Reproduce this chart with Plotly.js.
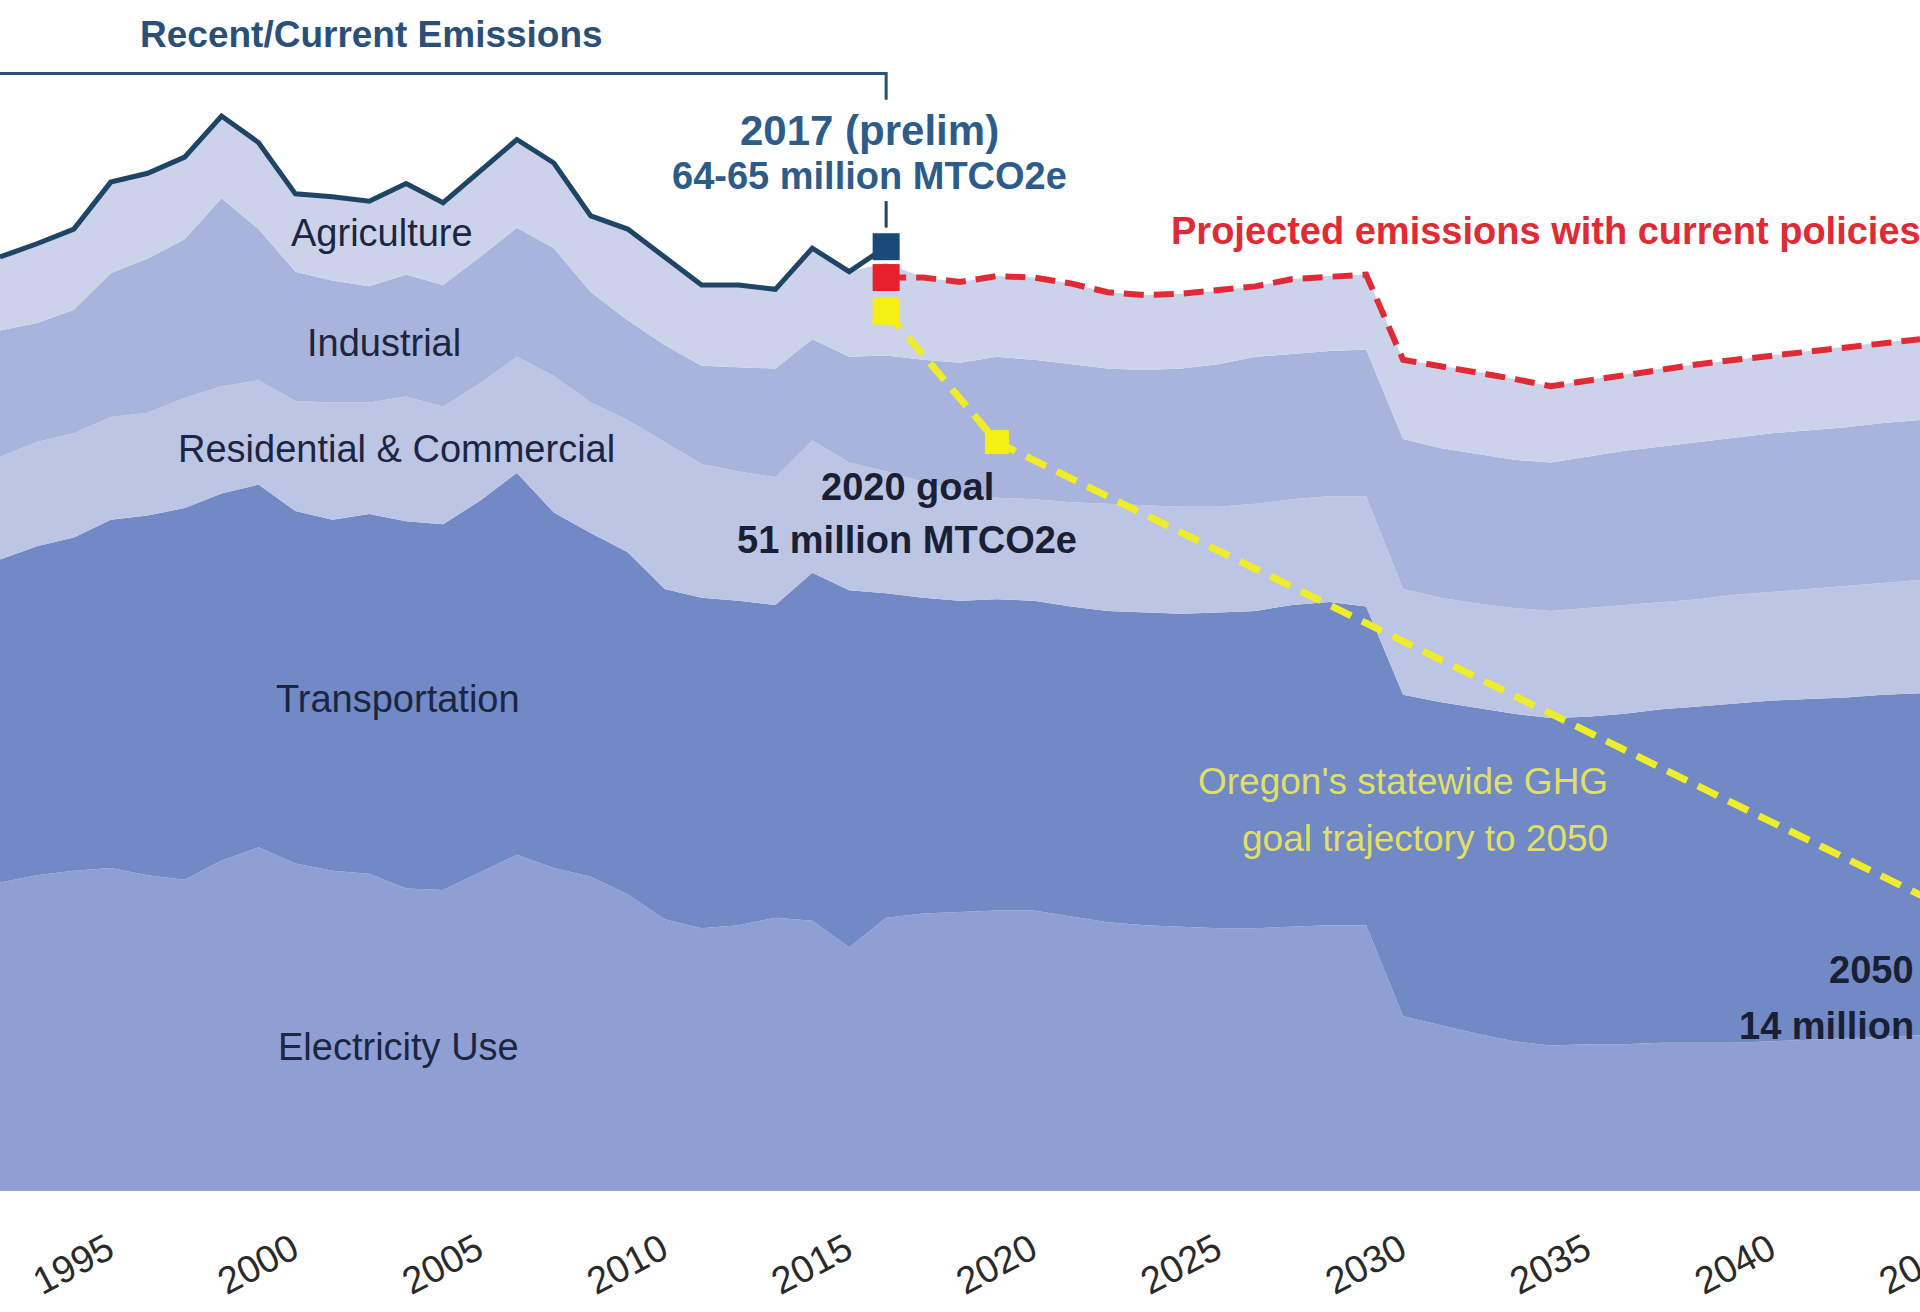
<!DOCTYPE html>
<html>
<head>
<meta charset="utf-8">
<script src="https://cdn.plot.ly/plotly-3.0.1.min.js"></script>
<style>
  html, body { margin: 0; padding: 0; background: #ffffff; }
  #chart { width: 1920px; height: 1312px; }
</style>
</head>
<body>
<div id="chart"></div>
<script>
// ---------------- DATA (million MTCO2e) ----------------
const years = [1993,1994,1995,1996,1997,1998,1999,2000,2001,2002,2003,2004,2005,2006,2007,2008,2009,2010,
  2011,2012,2013,2014,2015,2016,2017,2018,2019,2020,2021,2022,2023,2024,2025,2026,2027,2028,2029,2030,
  2031,2032,2033,2034,2035,2036,2037,2038,2039,2040,2041,2042,2043,2044,2045];

const electricity = [21.0,21.5,21.8,22.0,21.5,21.2,22.5,23.4,22.3,21.8,21.6,20.6,20.5,21.7,22.9,22.0,21.4,20.2,
  18.5,17.9,18.1,18.6,18.4,16.6,18.6,18.9,19.0,19.1,19.1,18.7,18.3,18.1,18.0,17.9,17.9,18.0,18.1,18.1,
  11.9,11.3,10.7,10.2,9.9,10.0,10.0,10.1,10.1,10.1,10.2,10.3,10.4,10.5,10.6];

const transportation = [22.0,22.4,22.7,23.7,24.5,25.3,25.0,24.7,24.0,23.9,24.5,25.0,24.9,25.3,26.0,24.2,23.4,23.3,
  22.5,22.5,22.1,21.3,23.7,24.3,22.1,21.5,21.2,21.2,21.1,21.1,21.2,21.3,21.3,21.5,21.6,21.9,22.0,21.7,
  21.9,22.0,22.2,22.3,22.3,22.3,22.5,22.7,22.9,23.1,23.2,23.2,23.2,23.3,23.3];

const residentialCommercial = [7.0,7.1,7.1,7.0,7.0,7.5,7.3,7.1,7.5,8.0,7.6,8.5,8.0,8.0,7.9,9.3,8.9,9.0,
  10.0,9.1,8.8,8.7,9.0,8.7,8.3,7.9,7.4,6.9,6.9,7.1,7.3,7.3,7.3,7.2,7.3,7.2,7.2,7.5,
  7.2,7.1,7.1,7.2,7.3,7.4,7.4,7.3,7.3,7.4,7.4,7.5,7.6,7.6,7.7];

const industrial = [8.6,8.1,8.4,9.8,10.5,10.8,12.8,10.3,8.8,8.3,7.9,8.3,8.3,8.6,8.8,8.7,7.5,6.8,
  6.6,6.7,7.1,7.4,6.9,7.2,7.9,8.3,8.8,9.6,9.5,9.4,9.2,9.2,9.4,9.7,10.0,9.9,9.9,10.0,
  10.2,10.2,10.2,10.1,10.1,10.3,10.5,10.6,10.7,10.7,10.8,10.8,10.8,10.9,10.9];

const agriculture = [5.0,5.4,5.5,6.2,5.8,5.6,5.6,5.9,5.3,5.7,5.8,6.2,5.6,5.8,6.0,5.8,5.2,6.2,
  6.0,5.5,5.6,5.4,6.2,5.8,6.3,5.6,5.5,5.5,5.6,5.5,5.2,5.1,5.1,5.0,4.8,5.1,5.1,5.1,
  5.4,5.6,5.6,5.5,5.2,5.2,5.2,5.3,5.3,5.3,5.3,5.4,5.5,5.5,5.5];

const sectorNames = ["Electricity Use", "Transportation", "Residential & Commercial", "Industrial", "Agriculture"];

const lastHistoricYear = 2016;
const prelimYear = 2017;
const prelim2017 = 64.3;          // "64-65 million MTCO2e"
const projectedStart2017 = 62.2;  // start of projection with current policies

const goalYears  = [2017, 2020, 2050];
const goalValues = [59.9, 51, 14];

const markerYears  = [2017, 2017, 2017, 2020];
const markerValues = [64.3, 62.2, 59.9, 51];

const tickYears = [1995, 2000, 2005, 2010, 2015, 2020, 2025, 2030, 2035, 2040, 2045];
const tickLabels = ["1995","2000","2005","2010","2015","2020","2025","2030","2035","2040","2045"];

// ---------------- STYLE ----------------
const fills = ["#8f9fd3", "#7189c5", "#bcc5e4", "#a9b4dc", "#ccd2ea"];
const navy = "#1e4466";
const steel = "#2d5c8a";
const red = "#e02a36";
const yellow = "#efec2c";
const ink = "#1c2541";
const FONT = "Liberation Sans, Arial, Helvetica, sans-serif";

// ---------------- BUILD ----------------
const series = [electricity, transportation, residentialCommercial, industrial, agriculture];
const totals = years.map((_, i) => series.reduce((s, arr) => s + arr[i], 0));

const traces = series.map((vals, k) => ({
  type: "scatter", mode: "lines", name: sectorNames[k],
  x: years, y: vals, stackgroup: "em",
  line: { width: 0, shape: "linear" },
  fillcolor: fills[k], hoverinfo: "skip"
}));

const histX = [], histY = [];
years.forEach((yr, i) => { if (yr <= lastHistoricYear) { histX.push(yr); histY.push(totals[i]); } });
histX.push(prelimYear); histY.push(prelim2017);

const projX = [prelimYear], projY = [projectedStart2017];
years.forEach((yr, i) => { if (yr > prelimYear) { projX.push(yr); projY.push(totals[i]); } });

traces.push({
  type: "scatter", mode: "lines", x: histX, y: histY,
  line: { color: navy, width: 5 }, hoverinfo: "skip", showlegend: false
});
traces.push({
  type: "scatter", mode: "lines", x: projX, y: projY,
  line: { color: red, width: 6, dash: "20px,10px" }, hoverinfo: "skip", showlegend: false
});
traces.push({
  type: "scatter", mode: "lines", x: goalYears, y: goalValues,
  line: { color: yellow, width: 7, dash: "22px,12px" }, hoverinfo: "skip", showlegend: false
});
traces.push({
  type: "scatter", mode: "markers", x: markerYears, y: markerValues, opacity: 1,
  marker: { symbol: "square", size: [27, 27, 27, 24], opacity: 1,
            color: ["#1b4a78", "#e8202a", "#f4f014", "#f4f014"],
            line: { width: 0 } },
  hoverinfo: "skip", showlegend: false
});

function ann(text, px, py, opts) {
  return Object.assign({
    text: text, xref: "paper", yref: "paper",
    x: px / 1920, y: (1191 - py) / 1191,
    showarrow: false, xanchor: "center", yanchor: "middle",
    font: { family: FONT, size: 38, color: ink }
  }, opts || {});
}

const annotations = [
  ann("<b>Recent/Current Emissions</b>", 371, 34, { font: { family: FONT, size: 37, color: "#2a5078" } }),
  ann("<b>2017 (prelim)</b>", 869, 131, { font: { family: FONT, size: 42, color: steel } }),
  ann("<b>64-65 million MTCO2e</b>", 869, 176, { font: { family: FONT, size: 38, color: steel } }),
  ann("<b>Projected emissions with current policies</b>", 1169, 231, { xanchor: "left", font: { family: FONT, size: 38, color: red } }),
  ann("Agriculture", 382, 233),
  ann("Industrial", 384, 343),
  ann("Residential &amp; Commercial", 396, 449),
  ann("Transportation", 398, 699),
  ann("Electricity Use", 398, 1047),
  ann("<b>2020 goal</b>", 907, 487, { font: { family: FONT, size: 38, color: "#1a1f33" } }),
  ann("<b>51 million MTCO2e</b>", 907, 540, { font: { family: FONT, size: 38, color: "#1a1f33" } }),
  ann("Oregon's statewide GHG", 1610, 781, { xanchor: "right", font: { family: FONT, size: 37, color: "#e0df66" } }),
  ann("goal trajectory to 2050", 1610, 838, { xanchor: "right", font: { family: FONT, size: 37, color: "#e0df66" } }),
  ann("<b>2050</b>", 1916, 970, { xanchor: "right", font: { family: FONT, size: 38, color: "#1a1f33" } }),
  ann("<b>14 million</b>", 1916, 1026, { xanchor: "right", font: { family: FONT, size: 38, color: "#1a1f33" } })
];

const shapes = [
  { type: "path", xref: "x", yref: "y", path: "M 1985,76.1 L 2017,76.1 L 2017,74.3",
    line: { color: "#2a5078", width: 3 } },
  { type: "line", xref: "x", yref: "y", x0: 2017, x1: 2017, y0: 65.6, y1: 67.4,
    line: { color: navy, width: 3 } }
];

const layout = {
  width: 1920, height: 1312,
  margin: { l: 0, r: 0, t: 0, b: 121, pad: 0 },
  paper_bgcolor: "#ffffff", plot_bgcolor: "#ffffff",
  showlegend: false,
  xaxis: {
    range: [1993, 2045], showgrid: false, zeroline: false, showline: false,
    tickmode: "array", tickvals: tickYears, ticktext: tickLabels,
    ticks: "", tickangle: -28, ticklabelshift: 34, ticklabelstandoff: 28,
    ticklabeloverflow: "allow",
    tickfont: { family: FONT, size: 38, color: "#2a2a2a" }, fixedrange: true
  },
  yaxis: { range: [0, 81.1], visible: false, showgrid: false, zeroline: false, fixedrange: true },
  annotations: annotations,
  shapes: shapes
};

Plotly.newPlot("chart", traces, layout, { displayModeBar: false, staticPlot: true });
</script>
</body>
</html>
